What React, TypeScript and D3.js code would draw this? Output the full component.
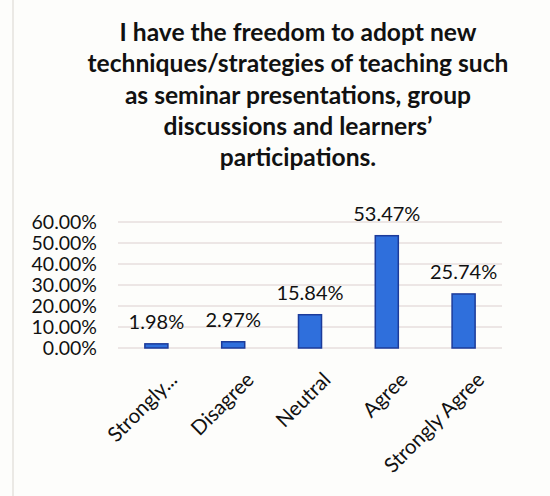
import React, { useEffect, useRef } from 'react';
import * as d3 from 'd3';

// survey answers and their share of respondents
const categories = ['Strongly...', 'Disagree', 'Neutral', 'Agree', 'Strongly Agree'];
const values = [1.98, 2.97, 15.84, 53.47, 25.74];
const yTicks = [0, 10, 20, 30, 40, 50, 60];
const titleLines = [
  'I have the freedom to adopt new',
  'techniques/strategies of teaching such',
  'as seminar presentations, group',
  'discussions and learners\u2019',
  'participations.'
];

const W = 550;
const H = 496;
const FONT = 'Lato, "Noto Sans", sans-serif';

const App: React.FC = () => {
  const svgRef = useRef<SVGSVGElement>(null);

  useEffect(() => {
    if (!svgRef.current) return;
    const svg = d3.select(svgRef.current);
    svg.selectAll('*').remove();

    svg.append('rect').attr('width', W).attr('height', H).attr('fill', '#fdfdfb');

    // faint edge of the scanned page
    svg.append('line')
      .attr('x1', 13).attr('x2', 13).attr('y1', 0).attr('y2', H)
      .attr('stroke', '#e4e2de').attr('stroke-width', 1.5);

    // title
    svg.append('g')
      .selectAll('text')
      .data(titleLines)
      .join('text')
      .attr('x', 298)
      .attr('y', (_, i) => 41 + i * 31.3)
      .attr('text-anchor', 'middle')
      .attr('font-family', FONT)
      .attr('font-weight', 'bold')
      .attr('font-size', 24.6)
      .attr('fill', '#111')
      .text(d => d);

    const left = 118;
    const right = 502;
    const x = d3.scaleBand<string>().domain(categories).range([left, right]).paddingInner(0.7).paddingOuter(0.35);
    const y = d3.scaleLinear().domain([0, 60]).range([348, 222]);

    // gridlines
    svg.append('g')
      .selectAll('line')
      .data(yTicks)
      .join('line')
      .attr('x1', left).attr('x2', right)
      .attr('y1', d => y(d)).attr('y2', d => y(d))
      .attr('stroke', '#dccfcf').attr('stroke-width', 1);

    // y labels
    svg.append('g')
      .selectAll('text')
      .data(yTicks)
      .join('text')
      .attr('x', 97)
      .attr('y', d => y(d) + 6.5)
      .attr('text-anchor', 'end')
      .attr('font-family', FONT)
      .attr('font-size', 19.5)
      .attr('fill', '#111')
      .text(d => d.toFixed(2) + '%');

    // bars
    svg.append('g')
      .selectAll('rect')
      .data(values)
      .join('rect')
      .attr('x', (_, i) => x(categories[i])!)
      .attr('width', x.bandwidth())
      .attr('y', d => y(d))
      .attr('height', d => y(0) - y(d))
      .attr('fill', '#2f6fdc')
      .attr('stroke', '#1c3b9a')
      .attr('stroke-width', 1.5);

    // data labels
    svg.append('g')
      .selectAll('text')
      .data(values)
      .join('text')
      .attr('x', (_, i) => x(categories[i])! + x.bandwidth() / 2)
      .attr('y', d => y(d) - 15)
      .attr('text-anchor', 'middle')
      .attr('font-family', FONT)
      .attr('font-size', 20)
      .attr('fill', '#111')
      .text(d => d.toFixed(2) + '%');

    // rotated category labels
    svg.append('g')
      .selectAll('text')
      .data(categories)
      .join('text')
      .attr('transform', d => `translate(${x(d)! + x.bandwidth() / 2 + 22},${381}) rotate(-45)`)
      .attr('text-anchor', 'end')
      .attr('font-family', FONT)
      .attr('font-size', 20.5)
      .attr('fill', '#111')
      .text(d => d);
  }, []);

  return (
    <svg
      ref={svgRef}
      width={W}
      height={H}
      style={{ position: 'absolute', left: 0, top: 0, display: 'block' }}
    />
  );
};

export default App;
